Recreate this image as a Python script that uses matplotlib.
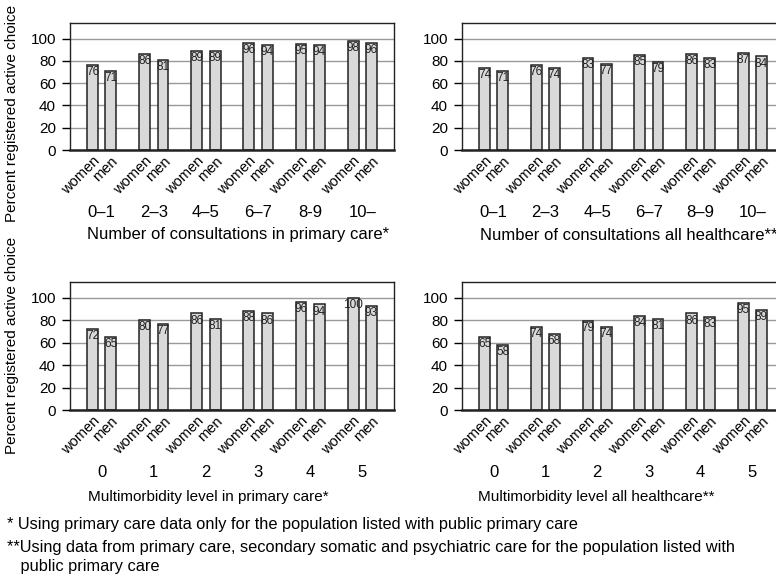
import matplotlib
matplotlib.use("Agg")
import matplotlib.pyplot as plt
import numpy as np

plt.rcParams['font.family'] = ['Liberation Sans', 'DejaVu Sans']

# data
cons_groups_pc = ["0\u20131", "2\u20133", "4\u20135", "6\u20137", "8-9", "10\u2013"]
cons_groups_all = ["0\u20131", "2\u20133", "4\u20135", "6\u20137", "8\u20139", "10\u2013"]
morb_groups = ["0", "1", "2", "3", "4", "5"]

cons_pc_women = [76, 86, 89, 96, 95, 98]
cons_pc_men = [71, 81, 89, 94, 94, 96]
cons_all_women = [74, 76, 83, 85, 86, 87]
cons_all_men = [71, 74, 77, 79, 83, 84]
morb_pc_women = [72, 80, 86, 88, 96, 100]
morb_pc_men = [65, 77, 81, 86, 94, 93]
morb_all_women = [65, 74, 79, 84, 86, 95]
morb_all_men = [58, 68, 74, 81, 83, 89]

sex_labels = ["women", "men"]
ylabel = "Percent registered active choice"
footnote1 = "* Using primary care data only for the population listed with public primary care"
footnote2 = ("**Using data from primary care, secondary somatic and psychiatric care for the population listed with\n"
             "   public primary care")

W, H = 776, 578
fig = plt.figure(figsize=(W / 100, H / 100), dpi=100)


def px_axes(left, top, width, height):
    return fig.add_axes([left / W, (H - top - height) / H, width / W, height / H])


def panel(ax, women, men, groups):
    x = np.arange(len(groups))
    off = 0.175
    bw = 0.21
    ax.set_axisbelow(True)
    ax.yaxis.grid(True, color="#999999", lw=1)
    for xs, vals in ((x - off, women), (x + off, men)):
        ax.bar(xs, vals, width=bw, color="#d9d9d9", edgecolor="#222222", lw=1.1)
        for xi, v in zip(xs, vals):
            ax.text(xi, v - 1, str(v), ha="center", va="top", fontsize=8.5, color="#222222")
    ax.set_ylim(0, 114)
    ax.set_xlim(-0.61, len(groups) - 0.39)
    ax.set_yticks([0, 20, 40, 60, 80, 100])
    ax.tick_params(axis="y", labelsize=11, length=6, width=1, pad=4)
    ticks = np.sort(np.concatenate([x - off, x + off]))
    ax.set_xticks(ticks)
    ax.set_xticklabels(sex_labels * len(groups), rotation=45, ha="right",
                       rotation_mode="anchor", fontsize=10.5)
    ax.tick_params(axis="x", length=0, pad=3)
    for sp in ax.spines.values():
        sp.set_color("#222222")
        sp.set_linewidth(1)
    ax.spines["bottom"].set_linewidth(1.8)
    for xi, g in zip(x, groups):
        ax.text(xi, -0.49, g, transform=ax.get_xaxis_transform(),
                ha="center", va="center", fontsize=12)


ax1 = px_axes(70, 23, 324, 127)
panel(ax1, cons_pc_women, cons_pc_men, cons_groups_pc)
ax2 = px_axes(462, 23, 322, 127)
panel(ax2, cons_all_women, cons_all_men, cons_groups_all)
ax3 = px_axes(70, 282, 324, 128)
panel(ax3, morb_pc_women, morb_pc_men, morb_groups)
ax4 = px_axes(462, 282, 322, 128)
panel(ax4, morb_all_women, morb_all_men, morb_groups)

fig.text(87 / W, 1 - 235 / H, "Number of consultations in primary care*", fontsize=12, va="center")
fig.text(480 / W, 1 - 235 / H, "Number of consultations all healthcare**", fontsize=12, va="center")
fig.text(88 / W, 1 - 497 / H, "Multimorbidity level in primary care*", fontsize=11, va="center")
fig.text(478 / W, 1 - 497 / H, "Multimorbidity level all healthcare**", fontsize=11, va="center")

fig.text(12 / W, 1 - 113 / H, ylabel, rotation=90, ha="center", va="center", fontsize=11)
fig.text(12 / W, 1 - 345 / H, ylabel, rotation=90, ha="center", va="center", fontsize=11)

fig.text(7 / W, 1 - 525 / H, footnote1, fontsize=11.8, va="center")
fig.text(7 / W, 1 - 540 / H, footnote2, fontsize=11.8, va="top", linespacing=1.3)

fig.savefig("out.png", dpi=100)
